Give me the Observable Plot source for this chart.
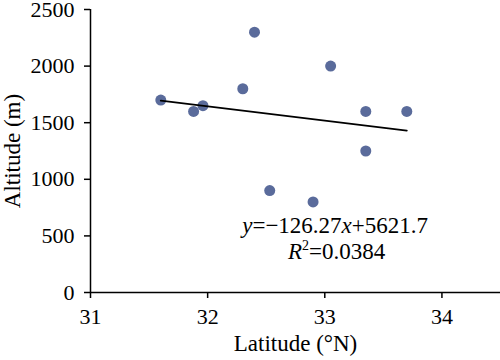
<!DOCTYPE html>
<html>
<head>
<meta charset="utf-8">
<script src="https://cdn.jsdelivr.net/npm/d3@7"></script>
<script src="https://cdn.jsdelivr.net/npm/@observablehq/plot@0.6"></script>
<style>
  html, body { margin: 0; padding: 0; background: #fff; }
  #chart svg { display: block; }
  #chart svg text, #chart svg tspan { font-family: 'Liberation Serif', 'Times New Roman', serif !important; font-variant: normal !important; }
</style>
</head>
<body>
<div id="chart"></div>
<script>
// Data
const latitude = [31.60, 31.88, 31.96, 32.30, 32.40, 32.53, 32.90, 33.05, 33.35, 33.35, 33.70];
const altitude = [1700, 1600, 1650, 1800, 2300, 900, 800, 2000, 1600, 1250, 1600];
const xTicks = [31, 32, 33, 34];
const yTicks = [0, 500, 1000, 1500, 2000, 2500];
const xLabel = "Latitude (°N)";
const yLabel = "Altitude (m)";
// Equation annotation (text parts; i = italic, sup = superscript)
const eqParts = [
  [{t: "y", i: true}, {t: "=−126.27"}, {t: "x", i: true}, {t: "+5621.7"}],
  [{t: "R", i: true}, {t: "2", sup: true}, {t: "=0.0384"}]
];
const eqLat = [32.295, 32.685];
const eqAlt = [530, 300];

const rows = latitude.map((d, i) => ({lat: d, alt: altitude[i]}));
const eqRows = eqParts.map((p, i) => ({lat: eqLat[i], alt: eqAlt[i], parts: p, label: p.map(q => q.t).join("")}));

const font = "'Liberation Serif', 'Times New Roman', serif";

const plot = Plot.plot({
  width: 500,
  height: 360,
  marginLeft: 90,
  marginRight: 0,
  marginTop: 9,
  marginBottom: 68,
  style: {fontFamily: font, fontSize: "22px", color: "#000", background: "#fff", overflow: "visible"},
  x: {domain: [31, 34.5]},
  y: {domain: [0, 2500]},
  marks: [
    Plot.axisY(yTicks, {tickSize: 6, tickPadding: 10, strokeWidth: 1.5, fontSize: 22, fontFamily: font,
      tickFormat: d => String(d), label: null}),
    Plot.axisY({ticks: [], label: yLabel, labelAnchor: "center", labelArrow: "none", labelOffset: 87, fontSize: 23, fontFamily: font}),
    Plot.axisX(xTicks, {tickSize: 6, tickPadding: 10, strokeWidth: 1.5, fontSize: 22, fontFamily: font,
      tickFormat: d => String(d), label: null}),
    Plot.axisX({ticks: [], label: xLabel, labelAnchor: "center", labelArrow: "none", labelOffset: 58, fontSize: 23, fontFamily: font}),
    Plot.ruleX([31], {stroke: "#000", strokeWidth: 1.5}),
    Plot.ruleY([0], {stroke: "#000", strokeWidth: 1.5}),
    Plot.dot(rows, {x: "lat", y: "alt", r: 5.5, fill: "#5a6b9b", stroke: "none"}),
    Plot.linearRegressionY(rows, {x: "lat", y: "alt", ci: 0, stroke: "#000", strokeWidth: 1.8}),
    Plot.text(eqRows, {
      x: "lat", y: "alt", text: "label", textAnchor: "start", lineAnchor: "bottom",
      fontSize: 23, fontFamily: font, fill: "#000",
      render(index, scales, values, dimensions, context, next) {
        const g = next(index, scales, values, dimensions, context);
        d3.select(g).selectAll("text").each(function(_, j) {
          const parts = eqRows[index[j]].parts;
          const t = d3.select(this);
          t.text(null);
          let shifted = false;
          parts.forEach(p => {
            const s = t.append("tspan").text(p.t);
            if (p.i) s.attr("font-style", "italic");
            if (p.sup) { s.attr("font-size", 14).attr("dy", -9); shifted = true; }
            else if (shifted) { s.attr("dy", 9); shifted = false; }
          });
        });
        return g;
      }
    })
  ]
});

document.getElementById("chart").appendChild(plot);
</script>
</body>
</html>
